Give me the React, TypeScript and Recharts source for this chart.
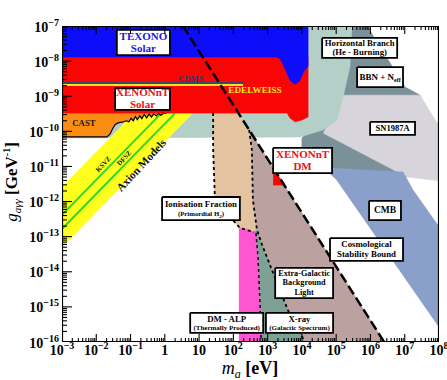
import React from "react";
import { ComposedChart, XAxis, YAxis, Scatter } from "recharts";

type Pt = [number, number];

// every point: [log10(m_a / eV), log10(g_agg / GeV^-1)]
const texono: Pt[] = [[-3, -7], [4.18, -7], [4.18, -8.14], [4.05, -8.3], [3.92, -8.58], [3.8, -8.66], [3.66, -8.56], [3.5, -8.2], [3.38, -7.95], [3.27, -7.88], [-3, -7.88]];
const xenonSolar: Pt[] = [[-3, -7.88], [4.18, -7.88], [4.18, -9.59], [4.0, -9.68], [3.8, -9.73], [3.65, -9.62], [3.57, -9.48], [-3, -9.48]];
const castCurve: Pt[] = [
  [-3, -10.16], [-1.69, -10.16], [-1.6, -10.08], [-1.52, -9.92], [-1.45, -9.81], [-1.37, -9.76], [-1.24, -9.74],
  [-1.12, -9.7], [-1.05, -9.73], [-0.98, -9.63], [-0.92, -9.7], [-0.86, -9.58], [-0.8, -9.67], [-0.73, -9.56],
  [-0.67, -9.64], [-0.6, -9.52], [-0.53, -9.62], [-0.46, -9.51], [-0.39, -9.59], [-0.32, -9.5], [-0.25, -9.56],
  [-0.18, -9.49], [-0.11, -9.54], [-0.03, -9.48], [0.05, -9.48],
];
const horizontalBranch: Pt[] = [[-3, -9.48], [-3, -10.19], [3.94, -10.16], [4.15, -10.1], [4.62, -9.96], [5.02, -9.68], [5.2, -9.02], [5.4, -8.17], [5.46, -7], [4.18, -7], [3.5, -9.48]];
const bbn: Pt[] = [[5.46, -7], [5.9, -7], [7.01, -8.74], [7.45, -8.97], [7.07, -11.3], [4.62, -11.04], [4.0, -11.04], [4.0, -10.19], [5.2, -8.97]];
const sn1987a: Pt[] = [[5.2, -8.97], [7.45, -8.97], [7.94, -9.76], [8, -9.76], [8, -11.41], [7.07, -11.3], [4.62, -10.05]];
const cmb: Pt[] = [[4.62, -11.04], [6.95, -11.16], [7.24, -11.67], [8, -12.72], [8, -15.57], [5.02, -11.39]];
const axionBand: Pt[] = [[-3, -11.59], [-0.89, -9.48], [0.82, -9.48], [-3, -13.3]];
const ksvz: Pt[] = [[-3, -12.38], [-0.1, -9.48]];
const dfsz: Pt[] = [[-3, -12.78], [0.3, -9.48]];
const ionisation: Pt[] = [[1.41, -9.48], [2.14, -9.48], [2.46, -9.96], [2.54, -10.53], [2.57, -11.96], [2.69, -12.81], [2.6, -12.87], [2.19, -12.75], [1.99, -12.53], [1.46, -11.87], [1.41, -10.53]];
const ebl: Pt[] = [[2.46, -9.96], [6.4, -16], [4.09, -16], [3.59, -15.09], [3.3, -14.38], [3.01, -13.66], [2.84, -13.24], [2.69, -12.81], [2.57, -11.96], [2.54, -10.53]];
const xray: Pt[] = [[2.6, -12.87], [2.69, -12.81], [2.84, -13.24], [3.01, -13.66], [3.3, -14.38], [3.59, -15.09], [4.09, -16], [2.8, -16], [2.72, -13.5]];
const dmAlp: Pt[] = [[2.16, -12.75], [2.45, -12.8], [2.66, -12.9], [2.72, -13.6], [2.78, -15], [2.81, -16], [2.16, -16]];
const xenonDM: Pt[] = [[3.16, -11.03], [3.48, -11.53], [3.16, -11.53]];
const cdms: Pt[] = [[-3, -8.62], [2.28, -8.62]];
const edelweiss: Pt[] = [[-3, -8.68], [2.28, -8.68]];
const stability: Pt[] = [[0.53, -7], [6.4, -16]];
const ionEdge: Pt[] = [[1.41, -9.48], [1.41, -10.53], [1.46, -11.87], [1.99, -12.53], [2.19, -12.75], [2.6, -12.87]];
const eblEdge: Pt[] = [[2.46, -9.96], [2.54, -10.53], [2.57, -11.96], [2.69, -12.81], [2.84, -13.24], [3.01, -13.66], [3.3, -14.38], [3.59, -15.09], [4.09, -16]];
const alpEdge: Pt[] = [[2.66, -12.9], [2.72, -13.6], [2.78, -15], [2.81, -16]];

const xDecades = [-3, -2, -1, 0, 1, 2, 3, 4, 5, 6, 7, 8];
const yDecades = [-16, -15, -14, -13, -12, -11, -10, -9, -8, -7];
const mantissas = [2, 3, 4, 5, 6, 7, 8, 9];

const FONT = "'Liberation Serif', 'Times New Roman', serif";
const BLUE_TXT = "#1818e8";
const RED_TXT = "#f01010";

type Line = { t: React.ReactNode; s: number; c?: string };
type Note = { x1: number; x2: number; y1: number; y2: number; lines: Line[] };

const notes: Note[] = [
  { x1: -1.4, x2: 0.15, y1: -7.11, y2: -7.83, lines: [{ t: "TEXONO", s: 11, c: BLUE_TXT }, { t: "Solar", s: 11, c: BLUE_TXT }] },
  { x1: -1.45, x2: 0.15, y1: -8.77, y2: -9.39, lines: [{ t: "XENONnT", s: 11, c: RED_TXT }, { t: "Solar", s: 11, c: RED_TXT }] },
  { x1: 4.59, x2: 6.78, y1: -7.34, y2: -7.91, lines: [{ t: "Horizontal Branch", s: 8.7 }, { t: "(He - Burning)", s: 8.7 }] },
  { x1: 5.61, x2: 6.95, y1: -8.17, y2: -8.74, lines: [{ t: <>BBN + N<tspan fontSize={6} dy={2}>eff</tspan></>, s: 9 }] },
  { x1: 5.99, x2: 7.3, y1: -9.73, y2: -10.1, lines: [{ t: "SN1987A", s: 8.5 }] },
  { x1: 3.16, x2: 4.88, y1: -10.47, y2: -11.19, lines: [{ t: "XENONnT", s: 11, c: RED_TXT }, { t: "DM", s: 11, c: RED_TXT }] },
  { x1: 5.96, x2: 6.89, y1: -11.98, y2: -12.53, lines: [{ t: "CMB", s: 9.5 }] },
  { x1: 4.82, x2: 6.95, y1: -13.04, y2: -13.69, lines: [{ t: "Cosmological", s: 8.8 }, { t: "Stability Bound", s: 8.8 }] },
  { x1: 3.22, x2: 4.91, y1: -13.89, y2: -14.75, lines: [{ t: "Extra-Galactic", s: 8.2 }, { t: "Background", s: 8.2 }, { t: "Light", s: 8.2 }] },
  { x1: -0.08, x2: 2.19, y1: -11.87, y2: -12.53, lines: [{ t: "Ionisation Fraction", s: 8.8 }, { t: <>(Primordial H<tspan fontSize={5} dy={2}>2</tspan><tspan dy={-2}>)</tspan></>, s: 6.8 }] },
  { x1: 0.74, x2: 2.87, y1: -15.17, y2: -15.74, lines: [{ t: "DM - ALP", s: 8.8 }, { t: "(Thermally Produced)", s: 7 }] },
  { x1: 2.95, x2: 4.91, y1: -15.17, y2: -15.74, lines: [{ t: "X-ray", s: 8.8 }, { t: "(Galactic Spectrum)", s: 7 }] },
];

const rows = (pts: Pt[]) => pts.map(([x, y]) => ({ x, y }));
const noDot = () => <g />;

function area(key: string, pts: Pt[], fill: string) {
  return (
    <Scatter key={key} data={rows(pts)} dataKey="y" isAnimationActive={false}
      line={{ fill, stroke: fill, strokeWidth: 0.6 }} lineType="joint" shape={noDot} />
  );
}

function path(key: string, pts: Pt[], stroke: string, width: number, dash?: string) {
  return (
    <Scatter key={key} data={rows(pts)} dataKey="y" isAnimationActive={false}
      line={{ fill: "none", stroke, strokeWidth: width, strokeDasharray: dash }} lineType="joint" shape={noDot} />
  );
}

function lines(cx: number, cy: number, ls: Line[]) {
  const gap = 1.12;
  const total = ls.reduce((s, l) => s + l.s * gap, 0);
  let top = cy - total / 2;
  return ls.map((l, i) => {
    const base = top + l.s * 0.86;
    top += l.s * gap;
    return (
      <text key={i} x={cx} y={base} textAnchor="middle" fontFamily={FONT} fontWeight="bold" fontSize={l.s} fill={l.c ?? "#000"}>
        {l.t}
      </text>
    );
  });
}

function textAt(key: string, x: number, y: number, draw: (cx: number, cy: number) => React.ReactNode) {
  return (
    <Scatter key={key} data={[{ x, y }]} dataKey="y" isAnimationActive={false}
      shape={(p: any) => <g>{draw(p.cx, p.cy)}</g>} />
  );
}

function tilted(text: string, size: number, angle: number) {
  return (cx: number, cy: number) => (
    <text x={cx} y={cy} dy="0.35em" textAnchor="middle" transform={`rotate(${angle} ${cx} ${cy})`}
      fontFamily={FONT} fontWeight="bold" fontSize={size} fill="#111">{text}</text>
  );
}

const expParts = (v: number) =>
  v === 0 ? ["1", ""] : v === 1 ? ["10", ""] : ["10", String(v).replace("-", "\u2212")];

const XTick = (p: any) => {
  const [base, exp] = expParts(p.payload.value);
  return (
    <text x={p.x} y={p.y + 13} textAnchor="middle" fontFamily={FONT} fontWeight="bold" fontSize={14} fill="#000">
      {base}
      {exp && <tspan dy={-6} fontSize={10}>{exp}</tspan>}
    </text>
  );
};

const YTick = (p: any) => {
  const [base, exp] = expParts(p.payload.value);
  return (
    <text x={p.x - 3} y={p.y + 5.5} textAnchor="end" fontFamily={FONT} fontWeight="bold" fontSize={14} fill="#000">
      {base}
      {exp && <tspan dy={-6} fontSize={10}>{exp}</tspan>}
    </text>
  );
};

const XTitle = () => (
  <text x={250} y={374} textAnchor="middle" fontFamily={FONT} fontSize={18} fill="#000">
    <tspan fontStyle="italic">m</tspan>
    <tspan fontStyle="italic" fontSize={12} dy={4}>a</tspan>
    <tspan dy={-4} fontWeight="bold"> [eV]</tspan>
  </text>
);

const YTitle = () => (
  <text x={0} y={0} transform="translate(17 182) rotate(-90)" textAnchor="middle" fontFamily={FONT} fontSize={17} fill="#000">
    <tspan fontStyle="italic">g</tspan>
    <tspan fontStyle="italic" fontSize={11} dy={4}>aγγ</tspan>
    <tspan dy={-4} fontWeight="bold"> [GeV</tspan>
    <tspan fontWeight="bold" fontSize={10} dy={-7}>-1</tspan>
    <tspan fontWeight="bold" dy={7}>]</tspan>
  </text>
);

// axis tick marks, drawn inward
const logSteps = (decades: number[]) =>
  decades.flatMap((d, i) => [
    { v: d, major: true },
    ...(i < decades.length - 1 ? mantissas.map((k) => ({ v: d + Math.log10(k), major: false })) : []),
  ]);
const bottomTicks = logSteps(xDecades).map((t) => ({ x: t.v, y: -16, len: t.major ? 8 : 4 }));
const topTicks = logSteps(xDecades).map((t) => ({ x: t.v, y: -7, len: t.major ? -8 : -4 }));
const leftTicks = logSteps(yDecades).map((t) => ({ x: -3, y: t.v, len: t.major ? 10 : 5 }));

const frame: Pt[] = [[-3, -7], [8, -7], [8, -16], [-3, -16], [-3, -7]];

export default function App() {
  return (
    <div style={{ position: "absolute", left: 0, top: 0, background: "#fff" }}>
      <ComposedChart width={447} height={380} margin={{ top: 26, right: 8, bottom: 0, left: 0 }}>
        <XAxis type="number" dataKey="x" domain={[-3, 8]} ticks={xDecades} interval={0} allowDataOverflow
          axisLine={false} tickLine={false} tickSize={0} tickMargin={0} height={38} tick={XTick}
          label={{ content: XTitle }} />
        <YAxis type="number" dataKey="y" domain={[-16, -7]} ticks={yDecades} interval={0} allowDataOverflow
          axisLine={false} tickLine={false} tickSize={0} tickMargin={0} width={62} tick={YTick}
          label={{ content: YTitle }} />

        {area("bbn", bbn, "#7b9199")}
        {area("sn", sn1987a, "#d7d5db")}
        {area("hb", horizontalBranch, "#b3cfc8")}
        {area("cmb", cmb, "#8a9fc9")}
        {area("axion", axionBand, "#ffff1e")}
        {path("ksvz", ksvz, "#2bd92b", 2)}
        {path("dfsz", dfsz, "#2bd92b", 2)}
        {area("ion", ionisation, "#e3c3a0")}
        {area("ebl", ebl, "#bba1a0")}
        {area("xray", xray, "#7da295")}
        {area("alp", dmAlp, "#ff55d0")}
        {area("xdm", xenonDM, "#fa0505")}
        {area("cast", [[-3, -9.48], ...castCurve], "#fb8c14")}
        {path("castLine", castCurve, "#000", 1.2)}
        {area("xsolar", xenonSolar, "#fa0505")}
        {area("texono", texono, "#0d0dfa")}
        {path("cdms", cdms, "#3a4670", 2)}
        {path("edel", edelweiss, "#f5e61a", 2)}

        {path("ionEdge", ionEdge, "#000", 1.8, "3 3")}
        {path("eblEdge", eblEdge, "#000", 1.8, "3 3")}
        {path("alpEdge", alpEdge, "#000", 1.5, "3 3")}
        {path("stability", stability, "#000", 2.5, "10 4")}

        {textAt("tKsvz", -1.8, -10.93, tilted("KSVZ", 6.8, -47))}
        {textAt("tDfsz", -1.19, -10.76, tilted("DFSZ", 6.8, -47))}
        {textAt("tAxion", -0.69, -10.96, tilted("Axion Models", 11.3, -47))}
        {textAt("tCdms", 0.76, -8.5, (cx, cy) => (
          <text x={cx} y={cy} dy="0.35em" textAnchor="middle" fontFamily={FONT} fontWeight="bold" fontSize={8.5} fill="#2c3a6e">CDMS</text>
        ))}
        {textAt("tEdel", 2.63, -8.82, (cx, cy) => (
          <text x={cx} y={cy} dy="0.35em" textAnchor="middle" fontFamily={FONT} fontWeight="bold" fontSize={9.2} fill="#ffe81a">EDELWEISS</text>
        ))}
        {textAt("tCast", -2.36, -9.76, (cx, cy) => (
          <text x={cx} y={cy} dy="0.35em" textAnchor="middle" fontFamily={FONT} fontWeight="bold" fontSize={8.7} fill="#1a1a1a">CAST</text>
        ))}

        {notes.flatMap((n, i) => [
          <Scatter key={`box${i}`} data={rows([[n.x1, n.y1], [n.x2, n.y1], [n.x2, n.y2], [n.x1, n.y2], [n.x1, n.y1]])}
            dataKey="y" isAnimationActive={false} lineType="joint" shape={noDot}
            line={{ fill: "#fff", stroke: "#000", strokeWidth: 1.8 }} />,
          textAt(`note${i}`, (n.x1 + n.x2) / 2, (n.y1 + n.y2) / 2, (cx, cy) => lines(cx, cy, n.lines)),
        ])}

        <Scatter key="bt" data={bottomTicks} dataKey="y" isAnimationActive={false}
          shape={(p: any) => <line x1={p.cx} x2={p.cx} y1={p.cy} y2={p.cy - p.payload.len} stroke="#000" strokeWidth={1.1} />} />
        <Scatter key="tt" data={topTicks} dataKey="y" isAnimationActive={false}
          shape={(p: any) => <line x1={p.cx} x2={p.cx} y1={p.cy} y2={p.cy - p.payload.len} stroke="#000" strokeWidth={1.1} />} />
        <Scatter key="lt" data={leftTicks} dataKey="y" isAnimationActive={false}
          shape={(p: any) => <line x1={p.cx} x2={p.cx + p.payload.len} y1={p.cy} y2={p.cy} stroke="#000" strokeWidth={1.1} />} />
        {path("frame", frame, "#000", 2.2)}
      </ComposedChart>
    </div>
  );
}
